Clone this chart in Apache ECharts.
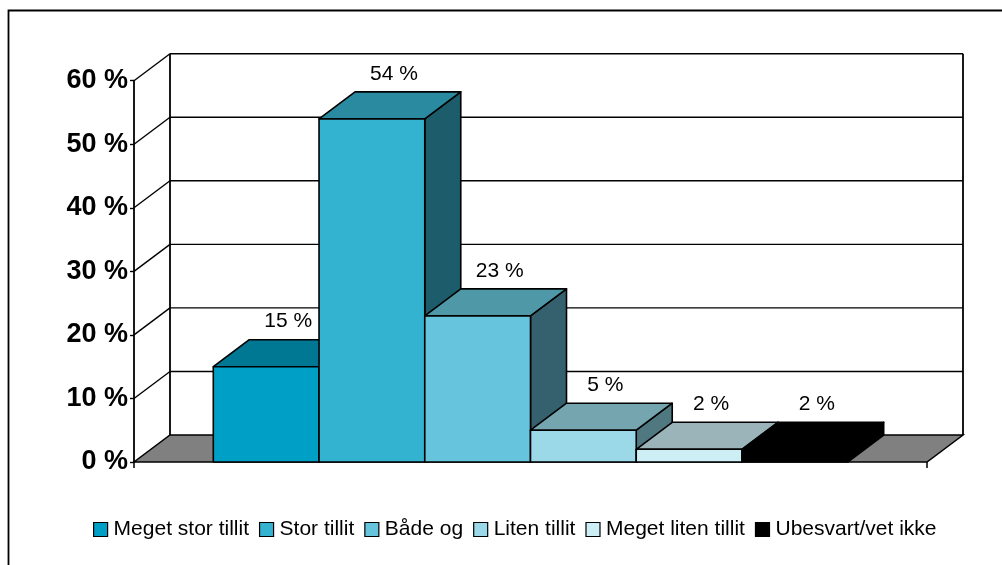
<!DOCTYPE html>
<html>
<head>
<meta charset="utf-8">
<script src="https://cdn.jsdelivr.net/npm/echarts@6/dist/echarts.min.js"></script>
<style>html,body{margin:0;padding:0;background:#fff;}#c{width:1002px;height:565px;}</style>
</head>
<body>
<div id="c"></div>
<script>
// ---- data ----
const categories = ['Meget stor tillit', 'Stor tillit', 'Både og', 'Liten tillit', 'Meget liten tillit', 'Ubesvart/vet ikke'];
const values = [15, 54, 23, 5, 2, 2];
const yTicks = [0, 10, 20, 30, 40, 50, 60];
const yTickLabels = ['0 %', '10 %', '20 %', '30 %', '40 %', '50 %', '60 %'];

// ---- styles ----
const frontColors = ['#00A0C6', '#33B3D0', '#66C5DD', '#9BD9E8', '#CCEEF4', '#000000'];
const topColors   = ['#007894', '#2A8AA0', '#4F98A8', '#75A6B0', '#9AB4B9', '#000000'];
const sideColors  = ['#005A70', '#1C5C6B', '#35606E', '#507880', '#66787C', '#000000'];
const DX = 36, DY = -27;      // depth projection in px
const GAP = 0.75;             // side gap in bar widths
const XMAX = categories.length + 2 * GAP;

const chart = echarts.init(document.getElementById('c'), null, {renderer: 'canvas'});

function pt(p, back) { return back ? [p[0] + DX, p[1] + DY] : [p[0], p[1]]; }

function renderWalls(params, api) {
  const v = api.value(0);
  const f = api.coord([0, v]);
  const b = pt(f, true);
  const br = pt(api.coord([XMAX, v]), true);
  const children = [];
  const ls = {stroke: '#000', lineWidth: 1.4, fill: null};
  if (v === 0) {
    const fl = api.coord([0, 0]), fr = api.coord([XMAX, 0]);
    children.push({type: 'polygon', shape: {points: [fl, fr, pt(fr, true), pt(fl, true)]},
      style: {fill: '#808080', stroke: '#000', lineWidth: 1.5}});
  } else {
    children.push({type: 'line', shape: {x1: f[0], y1: f[1], x2: b[0], y2: b[1]}, style: ls});
    children.push({type: 'line', shape: {x1: b[0], y1: b[1], x2: br[0], y2: br[1]}, style: ls});
  }
  if (v === yTicks[yTicks.length - 1]) {
    const b0 = pt(api.coord([0, 0]), true), br0 = pt(api.coord([XMAX, 0]), true);
    children.push({type: 'line', shape: {x1: b[0], y1: b[1], x2: b0[0], y2: b0[1]}, style: {stroke: '#000', lineWidth: 1.8}});
    children.push({type: 'line', shape: {x1: br[0], y1: br[1], x2: br0[0], y2: br0[1]}, style: {stroke: '#000', lineWidth: 1.8}});
  }
  return {type: 'group', children};
}

function makeRenderBar(idx) {
  return function (params, api) {
    const i = api.value(0), v = api.value(1);
    const tl = api.coord([GAP + i, v]);
    const tr = api.coord([GAP + i + 1, v]);
    const bl = api.coord([GAP + i, 0]);
    const br = api.coord([GAP + i + 1, 0]);
    const es = {stroke: '#000', lineWidth: 1.6, lineJoin: 'round'};
    const children = [
      {type: 'polygon', shape: {points: [tr, pt(tr, true), pt(br, true), br]},
        style: Object.assign({fill: sideColors[idx]}, es)},
      {type: 'polygon', shape: {points: [tl, tr, pt(tr, true), pt(tl, true)]},
        style: Object.assign({fill: topColors[idx]}, es)},
      {type: 'polygon', shape: {points: [tl, tr, br, bl]},
        style: Object.assign({fill: frontColors[idx]}, es)},
      {type: 'text', x: (tl[0] + tr[0]) / 2 + DX / 2 + 4, y: tl[1] - 45,
        style: {text: v + ' %', fill: '#000', font: '21px "Liberation Sans", Arial, sans-serif',
          textAlign: 'center', textVerticalAlign: 'middle'}, z2: 100}
    ];
    return {type: 'group', children};
  };
}

const series = [{
  type: 'custom', coordinateSystem: 'cartesian2d', z: 1, silent: true,
  data: yTicks.map(v => [v]), renderItem: renderWalls, encode: {y: 0}, legendHoverLink: false
}];
categories.forEach((name, i) => {
  series.push({
    type: 'custom', name, coordinateSystem: 'cartesian2d', z: 5 + i,
    itemStyle: {color: frontColors[i], borderColor: '#000', borderWidth: 1},
    data: [[i, values[i]]], encode: {x: 0, y: 1}, renderItem: makeRenderBar(i)
  });
});

chart.setOption({
  animation: false,
  backgroundColor: '#fff',
  grid: {left: 134, right: 75, top: 80.7, bottom: 103, containLabel: false},
  xAxis: {
    type: 'value', min: 0, max: XMAX, interval: XMAX,
    axisLine: {show: false}, axisLabel: {show: false}, splitLine: {show: false},
    axisTick: {show: true, length: 6, lineStyle: {color: '#000', width: 1.5}}
  },
  yAxis: {
    type: 'value', min: yTicks[0], max: yTicks[yTicks.length - 1], interval: 10,
    axisLine: {show: true, lineStyle: {color: '#000', width: 1.8}},
    axisTick: {show: true, length: 4, lineStyle: {color: '#000', width: 1.4}},
    splitLine: {show: false},
    axisLabel: {
      margin: 6, color: '#000', fontSize: 27, fontWeight: 'bold',
      fontFamily: '"Liberation Sans", Arial, sans-serif', padding: [4, 0, 0, 0],
      formatter: v => yTickLabels[yTicks.indexOf(v)]
    }
  },
  legend: {
    bottom: 20, left: 88, icon: 'rect', itemWidth: 14, itemHeight: 14, itemGap: 10,
    data: categories,
    itemStyle: {borderColor: '#000', borderWidth: 1.2},
    textStyle: {color: '#000', fontSize: 21, fontFamily: '"Liberation Sans", Arial, sans-serif', padding: [0, 0, 0, 1]}
  },
  graphic: [{type: 'rect', shape: {x: 8.5, y: 10.5, width: 1100, height: 700},
    style: {fill: null, stroke: '#000', lineWidth: 1.8}, z: 0, silent: true}],
  series
});
</script>
</body>
</html>
